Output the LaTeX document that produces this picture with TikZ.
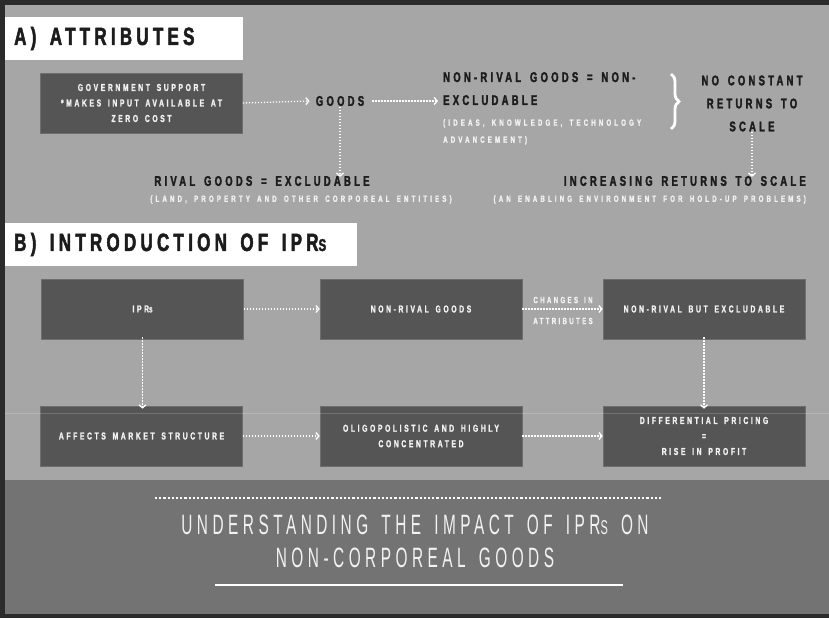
\documentclass[tikz,border=0pt]{standalone}
\usepackage{fontspec}
\setmainfont{Liberation Sans}
\newfontfamily\fhead[FakeStretch=0.68,LetterSpace=17,WordSpace=1.5,FakeBold=2,UprightFont={* Bold},BoldFont={* Bold}]{Liberation Sans}
\newfontfamily\fmid[FakeStretch=0.68,LetterSpace=23,WordSpace=1.5,FakeBold=2,UprightFont={* Bold},BoldFont={* Bold}]{Liberation Sans}
\newfontfamily\fboxt[FakeStretch=0.68,LetterSpace=26,WordSpace=1.5,FakeBold=1.5,UprightFont={* Bold},BoldFont={* Bold}]{Liberation Sans}
\newfontfamily\fnote[FakeStretch=0.68,LetterSpace=35,WordSpace=1.5,FakeBold=1.5,UprightFont={* Bold},BoldFont={* Bold}]{Liberation Sans}
\newfontfamily\ftitle[FakeStretch=0.55,LetterSpace=16,WordSpace=1.5]{Liberation Sans}
\usetikzlibrary{arrows.meta,decorations.pathreplacing}
\definecolor{bggray}{HTML}{A6A6A6}
\definecolor{boxgray}{HTML}{555555}
\definecolor{bandgray}{HTML}{737373}
\definecolor{framecol}{HTML}{2B2B2B}
\definecolor{ink}{HTML}{1C1C1C}
\definecolor{paleink}{HTML}{F2F2F2}
\tikzset{
  hdrbox/.style={fill=white, inner sep=0pt, anchor=north west},
  hdrtext/.style={anchor=west, inner sep=0pt, text=ink, font=\fhead\fontsize{25}{30}\selectfont},
  midtext/.style={inner sep=2pt, text=ink, font=\fmid\fontsize{14}{23}\selectfont},
  notetext/.style={inner sep=0pt, text=paleink, font=\fnote\fontsize{9}{17}\selectfont},
  darkbox/.style={fill=boxgray, draw=boxgray!85!white, line width=0.6pt, minimum width=202pt, minimum height=60pt, inner sep=2pt, text=paleink, align=center, font=\fboxt\fontsize{10}{15.5}\selectfont},
  flow/.style={draw=white, line width=1.3pt, dash pattern=on 1.3pt off 1.7pt, -{Straight Barb[length=3pt,width=7pt,line width=1.3pt]}},
}
\begin{document}
\begin{tikzpicture}[x=1pt,y=-1pt]
\useasboundingbox (0,0) rectangle (829,618);
\fill[framecol] (0,0) rectangle (829,618);
\fill[bggray] (5,5) rectangle (829,480);
\fill[bandgray] (5,480) rectangle (829,614);

% ---- section A
\node (hdrA) [hdrbox, minimum width=238pt, minimum height=43pt] at (5,17) {};
\node (hdrAt) [hdrtext] at (14,38.5) {A) ATTRIBUTES};

\node (gov) [darkbox] at (141.5,103) {GOVERNMENT SUPPORT\\*MAKES INPUT AVAILABLE AT\\ZERO COST};
\node (goods) [midtext] at (340,101) {GOODS};
\node (nr) [midtext, anchor=north west, align=left] at (441,70) {NON-RIVAL GOODS = NON-\\EXCLUDABLE};
\node (nrnote) [notetext, anchor=north west, align=left] at (443,119) {(IDEAS, KNOWLEDGE, TECHNOLOGY\\ADVANCEMENT)};
\coordinate (braceTop) at (671,74);
\coordinate (braceBot) at (671,129);
\draw[white, line width=2.8pt, decorate, decoration={brace, amplitude=8pt}] (braceTop) -- (braceBot);
\node (ncr) [midtext, align=center] at (752,103.5) {NO CONSTANT\\RETURNS TO\\SCALE};
\node (irs) [midtext, anchor=east] at (808,181) {INCREASING RETURNS TO SCALE};
\node (irsnote) [notetext, anchor=east] at (806,199.5) {(AN ENABLING ENVIRONMENT FOR HOLD-UP PROBLEMS)};
\node (rg) [midtext] at (262,181) {RIVAL GOODS = EXCLUDABLE};
\node (rgnote) [notetext] at (301,199.5) {(LAND, PROPERTY AND OTHER CORPOREAL ENTITIES)};

\draw[flow] (gov.east) -- ([xshift=-4pt]goods.west);
\draw[flow] ([xshift=6pt]goods.east) -- ([xshift=-3pt]goods.east -| nr.west);
\draw[flow] ([yshift=1pt]goods.south) -- ([yshift=-3pt]goods.south |- rg.north);
\draw[flow] ([yshift=2pt]ncr.south) -- ([yshift=-3pt]ncr.south |- irs.north);

% ---- section B
\node (hdrB) [hdrbox, minimum width=352pt, minimum height=43pt] at (5,223) {};
\node (hdrBt) [hdrtext] at (14,244.5) {B) INTRODUCTION OF IPR{\fontsize{17}{20}\selectfont S}};

\node (ipr) [darkbox] at (142.5,309) {IPR{\fontsize{7.5}{9}\selectfont S}};
\node (nrg) [darkbox] at (421,309) {NON-RIVAL GOODS};
\node (nrbe) [darkbox] at (704,309) {NON-RIVAL BUT EXCLUDABLE};
\node (ams) [darkbox] at (141.5,436) {AFFECTS MARKET STRUCTURE};
\node (olig) [darkbox] at (421,436) {OLIGOPOLISTIC AND HIGHLY\\CONCENTRATED};
\node (diff) [darkbox] at (704,436) {DIFFERENTIAL PRICING\\=\\RISE IN PROFIT};
\node (chg) [inner sep=0pt, align=center, text=paleink, font=\fboxt\fontsize{9}{21}\selectfont] at (563,310.5) {CHANGES IN\\ATTRIBUTES};

\draw[flow] (ipr.east) -- (nrg.west);
\draw[flow] (nrg.east) -- (nrbe.west);
\draw[flow] ([yshift=2pt]ipr.south) -- ([yshift=-3pt]ipr.south |- ams.north);
\draw[flow] ([yshift=2pt]nrbe.south) -- ([yshift=-3pt]nrbe.south |- diff.north);
\draw[flow] (ams.east) -- (olig.west);
\draw[flow] (olig.east) -- (diff.west);

\coordinate (faintL) at (5,413);
\coordinate (faintR) at (829,413);
\draw[white, opacity=0.18, line width=0.8pt] (faintL) -- (faintR);

% ---- bottom band
\coordinate (dotL) at (155,498);
\coordinate (dotR) at (662,498);
\draw[white, line width=2.2pt, dash pattern=on 2.2pt off 2pt] (dotL) -- (dotR);
\node (ttl) [inner sep=0pt, align=center, text=paleink, font=\ftitle\fontsize{28}{33}\selectfont] at (415,541) {UNDERSTANDING THE IMPACT OF IPR{\fontsize{20}{24}\selectfont S} ON\\NON-CORPOREAL GOODS};
\coordinate (ulL) at (215,585);
\coordinate (ulR) at (623,585);
\draw[white, line width=1.6pt] (ulL) -- (ulR);
\end{tikzpicture}
\end{document}
